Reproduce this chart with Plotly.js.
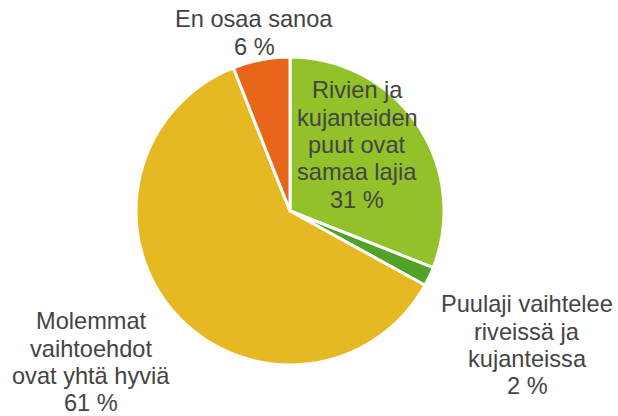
<!DOCTYPE html>
<html>
<head>
<meta charset="utf-8">
<script src="https://cdn.plot.ly/plotly-3.0.1.min.js"></script>
<style>html,body{margin:0;padding:0;background:#fff;}#chart{width:618px;height:416px;}</style>
</head>
<body>
<div id="chart"></div>
<script>
const labels = ["Rivien ja<br>kujanteiden<br>puut ovat<br>samaa lajia", "Puulaji vaihtelee<br>riveissä ja<br>kujanteissa", "Molemmat<br>vaihtoehdot<br>ovat yhtä hyviä", "En osaa sanoa"];
const values = [31, 2, 61, 6];
const colors = ["#92C12A", "#52A325", "#E6B822", "#E8661A"];
// label block: centre x and baseline of first line (pixels)
const labelX = [357, 527, 91, 254];
const labelBase = [98, 312, 329, 27];

const W = 618, H = 416;
const cx = 290, cy = 211, r = 154;
const lineGap = 27.3, fontSize = 23.6;

const annotations = [];
labels.forEach((l, i) => {
  const lines = l.split("<br>").concat([values[i] + " %"]);
  lines.forEach((t, k) => {
    const base = labelBase[i] + k * lineGap;
    annotations.push({
      text: t,
      x: labelX[i] / W, y: 1 - (base - 7.7) / H,
      xref: "paper", yref: "paper",
      xanchor: "center", yanchor: "middle",
      showarrow: false, align: "center",
      font: {family: "Liberation Sans, Arial, sans-serif", size: fontSize, color: "#444444"}
    });
  });
});

Plotly.newPlot("chart", [{
  type: "pie",
  labels: labels,
  values: values,
  sort: false,
  direction: "clockwise",
  rotation: 0,
  marker: {colors: colors, line: {color: "#ffffff", width: 3}},
  textinfo: "none",
  hoverinfo: "none",
  showlegend: false,
  domain: {x: [(cx - r) / W, (cx + r) / W], y: [1 - (cy + r) / H, 1 - (cy - r) / H]}
}], {
  width: W, height: H,
  margin: {l: 0, r: 0, t: 0, b: 0},
  paper_bgcolor: "#ffffff",
  showlegend: false,
  annotations: annotations
}, {displayModeBar: false, staticPlot: true});
</script>
</body>
</html>
